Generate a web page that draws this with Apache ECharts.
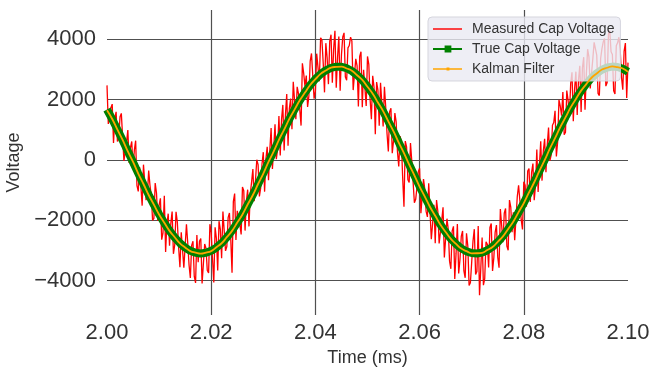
<!DOCTYPE html>
<html>
<head>
<meta charset="utf-8">
<script src="https://cdn.jsdelivr.net/npm/echarts@6/dist/echarts.min.js"></script>
<style>
  html, body { margin: 0; padding: 0; background: #fff; }
  #chart { width: 653px; height: 367px; }
</style>
</head>
<body>
<div id="chart"></div>
<script>
// sample grids (ms)
const measuredStart = 2.0, measuredStep = 0.0005;   // main samples
const midStart = 2.00025;                            // in-between samples, same step
const trueStart = 2.0, trueStep = 0.001;

const measuredVoltage = [
  2475, 1214, 1853, 1383, 612, 1435, 758, -24, 993, 409,
  -275, 641, -1043, -224, -154, -1329, -353, -1170, -1937, -1093,
  -1499, -2643, -1186, -2115, -2844, -1706, -2818, -2062, -3556, -2431,
  -3505, -2759, -3913, -2696, -4078, -3389, -2600, -4039, -2928, -3745,
  -2412, -4058, -2604, -2030, -3255, -1661, -2867, -1755, -3742, -1113,
  -1684, -2141, -897, -2341, -984, -1118, -301, -1376, -151, -921,
  260, 43, -673, 1062, 396, 28, 1460, 1338, 315, 2186,
  1706, 1017, 2577, 2426, 1674, 3209, 2443, 1763, 3283, 3585,
  2286, 3468, 4050, 3213, 3875, 2516, 4157, 3677, 2397, 4095,
  3492, 4218, 2644, 3798, 3952, 2286, 3119, 3433, 1747, 3042,
  3436, 2014, 2791, 854, 2316, 2565, 1113, 1750, 287, 1715,
  643, 1265, -214, 603, -1550, 436, -748, -32, -1415, -895,
  -274, -1748, -971, -1886, -751, -2105, -2758, -1699, -2740, -1566,
  -3192, -2300, -3608, -2199, -3089, -3760, -2530, -3680, -2429, -4158,
  -3386, -2293, -3699, -4484, -2568, -3931, -2794, -2236, -3678, -2399,
  -3220, -1623, -2725, -1609, -2993, -1562, -1730, -2684, -837, -1979,
  -720, -1552, -283, -407, -1330, 351, -168, -684, 701, 485,
  -31, 1151, 1632, 608, 1784, 2253, 921, 1980, 2538, 1284,
  2930, 2662, 1594, 3410, 2826, 3424, 2321, 3900, 3478, 2137,
  3695, 4032, 2568, 4284, 3499, 2193, 3886, 3658, 2329, 3879,
  3229
];

const measuredVoltageMid = [
  1195, 1734, 568, 1598, 724, 1547, -33, 585, -99, 617,
  333, -851, -234, -1514, -192, -1166, -837, -2004, -765, -2021,
  -1271, -2415, -3051, -1780, -2100, -3112, -1715, -2909, -2394, -3568,
  -2132, -3486, -2830, -3862, -2484, -2695, -4095, -2784, -3662, -2129,
  -3285, -2231, -3667, -2293, -1708, -3014, -1911, -2599, -1378, -2649,
  -1713, -2469, -1019, -1363, -2201, -735, -1364, 11, -1211, -131,
  -1049, 435, 320, -296, 1187, 369, 149, 1827, 1501, 471,
  2037, 2597, 1352, 2200, 1142, 2876, 2803, 2123, 3534, 2036,
  3527, 2609, 3982, 2244, 3396, 3937, 2567, 4287, 3396, 2294,
  4080, 2756, 3721, 4075, 2319, 3353, 1776, 3590, 2995, 1789,
  3175, 1353, 2423, 2585, 1141, 1889, 2432, 869, 1601, 229,
  1554, 276, 795, -588, 628, -656, 560, -724, -1305, -385,
  -1761, -635, -1704, -769, -2628, -1482, -1329, -2770, -2003, -3229,
  -1946, -3354, -2354, -3944, -2125, -3295, -2355, -3905, -2844, -4072,
  -2690, -3796, -2192, -3576, -4150, -2713, -3565, -2107, -3239, -2160,
  -3572, -2174, -1767, -2851, -1328, -2396, -2657, -1211, -1358, -2300,
  -836, -368, -1395, -119, -840, -1059, 624, 308, -407, 1077,
  160, 1242, 120, 1996, 1469, 837, 2301, 1459, 2911, 2357,
  1496, 3128, 3052, 1668, 3675, 2373, 3361, 3839, 2208, 3366,
  3914, 2450, 4176, 3592, 2296, 3790, 4072, 2744, 3604, 2054
];

const trueVoltage = [
  1675, 1353, 1012, 658, 293, -75, -443, -804, -1153, -1487,
  -1799, -2086, -2344, -2568, -2756, -2905, -3013, -3078, -3100, -3078,
  -3012, -2904, -2755, -2567, -2342, -2084, -1797, -1484, -1151, -801,
  -440, -73, 296, 660, 1015, 1356, 1677, 1974, 2243, 2483,
  2686, 2850, 2975, 3057, 3097, 3092, 3044, 2952, 2819, 2647,
  2436, 2191, 1916, 1613, 1287, 943, 586, 220, -148, -515,
  -874, -1221, -1551, -1858, -2140, -2392, -2608, -2789, -2930, -3029,
  -3086, -3099, -3068, -2994, -2878, -2720, -2525, -2293, -2030, -1737,
  -1420, -1083, -730, -368, 1, 369, 732, 1084, 1421, 1738,
  2030, 2294, 2526, 2721, 2878, 2995, 3068, 3099, 3086, 3029,
  2929
];

const kalmanVoltage = [
  1650, 1360, 1005, 665, 285, -65, -450, -795, -1160, -1480,
  -1805, -2080, -2350, -2560, -2765, -2900, -3020, -3070, -3105, -3070,
  -3020, -2895, -2760, -2560, -2350, -2075, -1805, -1475, -1160, -795,
  -448, -65, 288, 668, 1008, 1362, 1670, 1980, 2236, 2490,
  2680, 2858, 2968, 3064, 3090, 3100, 3036, 2960, 2812, 2655,
  2428, 2198, 1908, 1620, 1280, 950, 578, 228, -156, -508,
  -882, -1214, -1558, -1850, -2148, -2385, -2616, -2782, -2938, -3022,
  -3094, -3092, -3076, -2987, -2886, -2713, -2533, -2286, -2038, -1730,
  -1428, -1076, -738, -361, -7, 376, 724, 1091, 1413, 1745,
  2022, 2301, 2518, 2728, 2870, 3002, 3060, 3106, 3078, 3036,
  2921
];

const xTicks = [2.00, 2.02, 2.04, 2.06, 2.08, 2.10];
const yTicks = [-4000, -2000, 0, 2000, 4000];

const pair = (start, step, arr) => arr.map((v, i) => [+(start + i * step).toFixed(5), v]);

// merge the two measurement grids into one time-ordered line
const measuredData = pair(measuredStart, measuredStep, measuredVoltage)
  .concat(pair(midStart, measuredStep, measuredVoltageMid))
  .sort((a, b) => a[0] - b[0]);

const chart = echarts.init(document.getElementById('chart'), null, { renderer: 'canvas' });
const font = 'Liberation Sans, Arial, sans-serif';
const gridColor = '#505050';

const option = {
  animation: false,
  backgroundColor: '#ffffff',
  textStyle: { fontFamily: font },
  grid: { left: 107, right: 25, top: 10, bottom: 52, outerBoundsMode: 'none', containLabel: false },
  legend: {
    orient: 'vertical',
    left: 428,
    top: 17,
    padding: [5, 6, 5, 5],
    itemWidth: 29,
    itemHeight: 14,
    itemGap: 6,
    backgroundColor: 'rgba(234,234,242,0.8)',
    borderColor: 'rgba(210,210,218,0.9)',
    borderWidth: 1,
    borderRadius: 4,
    selectedMode: false,
    textStyle: { fontSize: 14, color: '#333', fontFamily: font, padding: [0, 0, 0, 5] },
    data: [
      { name: 'Measured Cap Voltage', icon: 'path://M0,0h30v1.5h-30z' },
      { name: 'True Cap Voltage', icon: 'path://M0,2.5h30v2h-30z M12,0h7v7h-7z' },
      { name: 'Kalman Filter', icon: 'path://M0,1.2h30v1.6h-30z M14,0.5h3v3h-3z' }
    ]
  },
  xAxis: {
    type: 'value',
    min: 2.0,
    max: 2.1,
    name: 'Time (ms)',
    nameLocation: 'middle',
    nameGap: 29,
    nameTextStyle: { fontSize: 18, color: '#333', fontFamily: font },
    axisLine: { show: false },
    axisTick: { show: false, customValues: xTicks },
    axisLabel: {
      customValues: xTicks,
      fontSize: 22, color: '#333', margin: 7, fontFamily: font,
      formatter: v => v.toFixed(2)
    },
    splitLine: { show: true, showMinLine: false, showMaxLine: false, lineStyle: { color: gridColor, width: 1.2 } }
  },
  yAxis: {
    type: 'value',
    min: -5140,
    max: 4975,
    name: 'Voltage',
    nameLocation: 'middle',
    nameGap: 74,
    nameTextStyle: { fontSize: 18, color: '#333', fontFamily: font },
    axisLine: { show: false },
    axisTick: { show: false, customValues: yTicks },
    axisLabel: {
      customValues: yTicks,
      fontSize: 22, color: '#333', margin: 11, fontFamily: font,
      formatter: v => (v < 0 ? '\u2212' + Math.abs(v) : String(v))
    },
    splitLine: { show: true, lineStyle: { color: gridColor, width: 1.2 } }
  },
  series: [
    {
      name: 'Measured Cap Voltage',
      type: 'line',
      data: measuredData,
      symbol: 'none',
      lineStyle: { color: '#ff0000', width: 1.3 },
      itemStyle: { color: '#ff0000' },
      z: 2
    },
    {
      name: 'True Cap Voltage',
      type: 'line',
      data: pair(trueStart, trueStep, trueVoltage),
      symbol: 'rect',
      showSymbol: false,
      lineStyle: { color: '#008000', width: 8 },
      itemStyle: { color: '#008000' },
      z: 3
    },
    {
      name: 'Kalman Filter',
      type: 'line',
      data: pair(trueStart, trueStep, kalmanVoltage),
      symbol: 'none',
      smooth: true,
      lineStyle: { color: '#ffa500', width: 1.8 },
      itemStyle: { color: '#ffa500' },
      z: 4
    }
  ]
};

chart.setOption(option);
</script>
</body>
</html>
